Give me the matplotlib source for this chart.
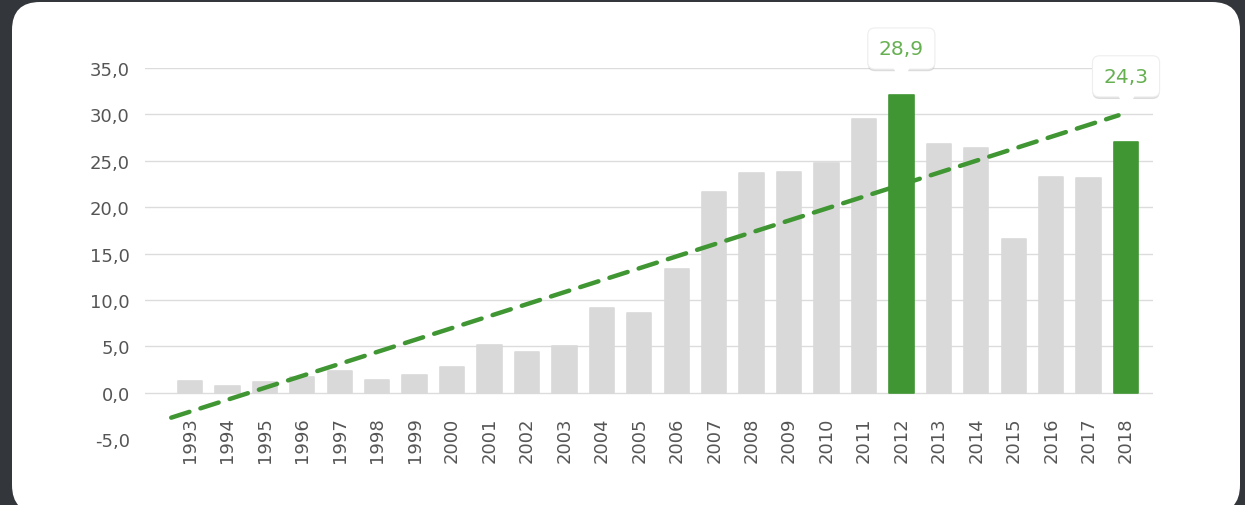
import matplotlib.pyplot as plt
from matplotlib.patches import FancyBboxPatch
import matplotlib.patheffects as pe

# data
years = [str(y) for y in range(1993, 2019)]
values = [1.3, 0.7, 1.1, 1.7, 2.3, 1.4, 1.9, 2.8, 5.1, 4.4, 5.0, 9.1, 8.6, 13.3,
          21.6, 23.7, 23.8, 24.8, 29.5, 32.1, 26.8, 26.4, 16.6, 23.2, 23.1, 27.0]
highlight = ['2012', '2018']
trend_x = [-0.5, 24.8]          # position along the category axis
trend_y = [-2.7, 29.9]
tip_years = ['2012', '2018']
tip_labels = ['28,9', '24,3']
tip_y = [37.1, 34.1]

grey = '#d9d9d9'
green = '#3f9632'
text_col = '#555555'

fig = plt.figure(figsize=(12.45, 5.06), dpi=100)
fig.patch.set_facecolor('#33373b')

# white card on a full-figure background axes (pixel units)
bg = fig.add_axes([0, 0, 1, 1], zorder=-1)
bg.set_xlim(0, 1245)
bg.set_ylim(506, 0)
bg.axis('off')
bg.add_patch(FancyBboxPatch((12, 3), 1228, 511, boxstyle='round,pad=0,rounding_size=28',
                            fc='white', ec='none'))

ax = fig.add_axes([145 / 1245, 66 / 506, 1008 / 1245, 371 / 506])
ax.set_facecolor('none')

x = list(range(len(years)))
colors = [green if y in highlight else grey for y in years]
ax.bar(x, values, width=0.65, color=colors, edgecolor=colors, linewidth=1.2,
       joinstyle='round', zorder=2)

ax.plot(trend_x, trend_y, color=green, linestyle=(0, (4.3, 2.6)), linewidth=3.2,
        dash_capstyle='round', zorder=3)

ax.set_xlim(-1.2, 25.72)
ax.set_ylim(-5, 35)
ax.set_yticks(range(-5, 40, 5))
ax.set_yticklabels([f'{v:.1f}'.replace('.', ',') for v in range(-5, 40, 5)],
                   fontsize=13, color=text_col)
ax.tick_params(axis='y', length=0, pad=11)
ax.set_xticks([])
for v in range(0, 40, 5):
    ax.axhline(v, color='#dcdcdc', linewidth=1, zorder=1)
for s in ax.spines.values():
    s.set_visible(False)

for i, lab in enumerate(years):
    ax.text(i, -2.55, lab, rotation=90, ha='center', va='top', fontsize=13,
            color=text_col)

# tooltips
for yr, lab, ty in zip(tip_years, tip_labels, tip_y):
    i = years.index(yr)
    ax.plot(i, ty - 2.75, marker='v', markersize=11, color='white',
            markeredgecolor='white', zorder=6, clip_on=False)
    t = ax.text(i, ty, lab, ha='center', va='center', fontsize=14.5, color='#66b052',
                zorder=5, clip_on=False,
                bbox=dict(boxstyle='round,pad=0.55,rounding_size=0.35', fc='white',
                          ec='#eeeeee', lw=0.8))
    t.get_bbox_patch().set_path_effects([pe.SimplePatchShadow(offset=(0, -1.5),
                                         shadow_rgbFace='#bbbbbb', alpha=0.5),
                                         pe.Normal()])

fig.savefig('out.png', dpi=100, facecolor=fig.get_facecolor())
